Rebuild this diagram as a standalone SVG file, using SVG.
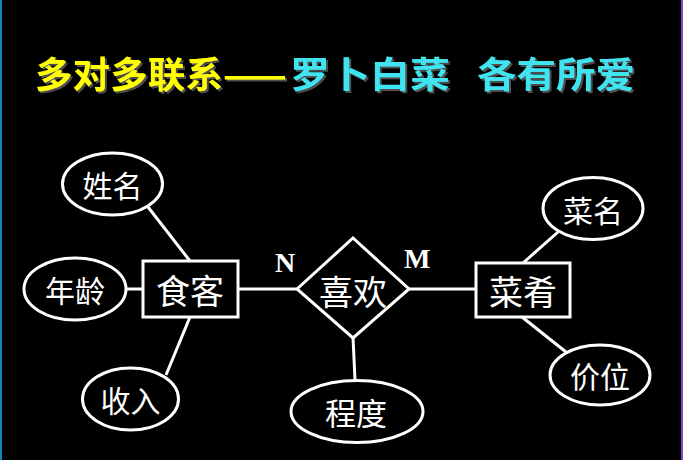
<svg xmlns="http://www.w3.org/2000/svg" width="683" height="460" viewBox="0 0 683 460">
<defs>
<filter id="shadow" x="-5%" y="-20%" width="110%" height="140%">
<feDropShadow dx="2" dy="2" stdDeviation="0.5" flood-color="#555" flood-opacity="0.9"/>
</filter>
</defs>
<style>
.shape{fill:#000;stroke:#fff;stroke-width:3}
.conn line{stroke:#fff;stroke-width:3}
.lbl{fill:#fff;font-family:"Noto Sans CJK SC","Noto Sans",sans-serif;text-anchor:middle;dominant-baseline:central}
.card{fill:#fff;font-family:"Liberation Serif",serif;font-weight:bold;font-size:28px}
.title{font-family:"Noto Sans CJK SC",sans-serif;font-weight:bold;font-size:36px;filter:url(#shadow)}
</style>
<rect x="0" y="0" width="683" height="460" fill="#000"/>
<rect x="0" y="0" width="2" height="460" fill="#1188BB"/>
<rect x="681" y="0" width="2" height="460" fill="#8844CC"/>
<g id="title">
<text class="title" x="35" y="88" fill="#FFFF00" textLength="252" lengthAdjust="spacingAndGlyphs">多对多联系——</text>
<text class="title" x="290" y="88" fill="#3FE3F0" textLength="160" lengthAdjust="spacingAndGlyphs">罗卜白菜</text>
<text class="title" x="477" y="88" fill="#3FE3F0" textLength="158" lengthAdjust="spacingAndGlyphs">各有所爱</text>
</g>
<g id="connectors" class="conn">
<line x1="148" y1="207" x2="190" y2="261"/>
<line x1="126" y1="289" x2="143" y2="289"/>
<line x1="190" y1="317" x2="166" y2="375"/>
<line x1="238" y1="289" x2="297" y2="289"/>
<line x1="409" y1="289" x2="476" y2="289"/>
<line x1="353" y1="337" x2="355" y2="380"/>
<line x1="523" y1="263" x2="558" y2="232"/>
<line x1="522" y1="317" x2="566" y2="352"/>
</g>
<g id="card-n"><text class="card" x="275" y="272">N</text></g>
<g id="card-m"><text class="card" x="404" y="268">M</text></g>
<g id="node-xingming"><ellipse class="shape" cx="112.5" cy="184" rx="50" ry="31"/><text class="lbl" x="112.5" y="184" font-size="30">姓名</text></g>
<g id="node-nianling"><ellipse class="shape" cx="75" cy="289" rx="51" ry="31"/><text class="lbl" x="75" y="289" font-size="30">年龄</text></g>
<g id="node-shouru"><ellipse class="shape" cx="130.5" cy="399" rx="48" ry="31"/><text class="lbl" x="130.5" y="399" font-size="30">收入</text></g>
<g id="node-shike"><rect class="shape" x="143" y="261" width="95" height="56"/><text class="lbl" x="190" y="289" font-size="34">食客</text></g>
<g id="node-xihuan"><polygon class="shape" points="297,289 353,238 409,289 353,338"/><text class="lbl" x="353" y="290" font-size="34">喜欢</text></g>
<g id="node-chengdu"><ellipse class="shape" cx="357" cy="411.5" rx="66" ry="31"/><text class="lbl" x="356" y="411.5" font-size="31">程度</text></g>
<g id="node-caiyao"><rect class="shape" x="476" y="263" width="94" height="54"/><text class="lbl" x="523" y="290" font-size="34">菜肴</text></g>
<g id="node-caiming"><ellipse class="shape" cx="593" cy="208.5" rx="50" ry="31"/><text class="lbl" x="593" y="208.5" font-size="30">菜名</text></g>
<g id="node-jiawei"><ellipse class="shape" cx="600" cy="375" rx="50" ry="30"/><text class="lbl" x="600" y="375" font-size="30">价位</text></g>
</svg>
